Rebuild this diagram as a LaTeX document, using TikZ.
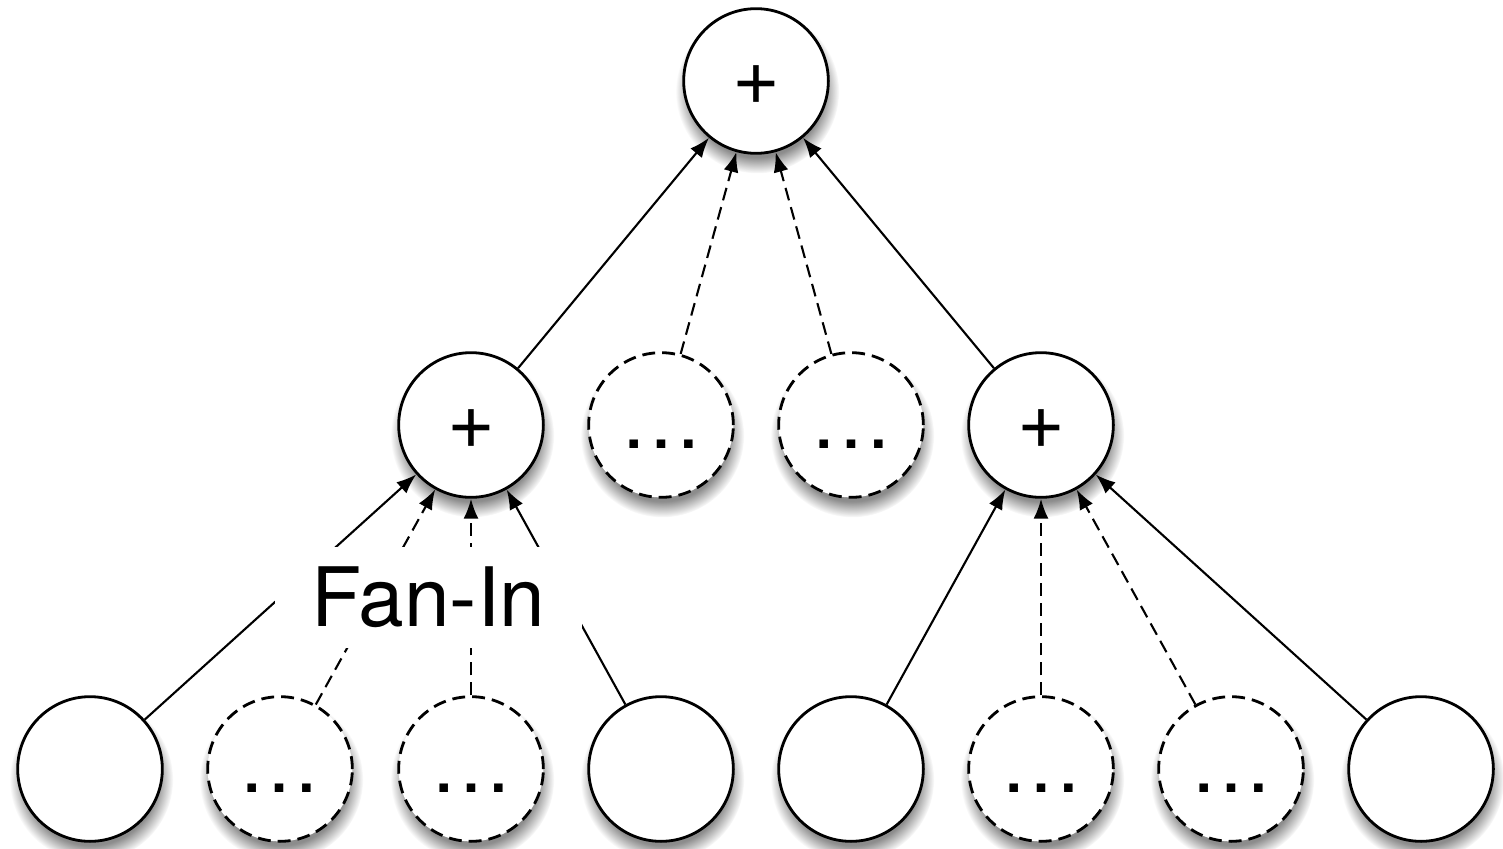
\documentclass[tikz,border=0pt]{standalone}
\usepackage{fontspec}
\setmainfont{TeX Gyre Heros}
\usetikzlibrary{arrows.meta,shadows}

\begin{document}
\begin{tikzpicture}[x=0.015cm,y=-0.015cm,
    every node/.style={font=\fontsize{35}{40}\selectfont},
    op/.style={circle,draw,line width=1.2pt,fill=white,minimum size=2.17cm,
      inner sep=0pt,text height=27.3pt,text depth=7pt,
      circular drop shadow={shadow xshift=0.5pt,shadow yshift=-4pt,
        shadow scale=1.13,opacity=0.9,
        path fading={circle with fuzzy edge 20 percent}}},
    more/.style={op,dash pattern=on 5.5pt off 3pt},
    flow/.style={-{Latex[length=8.5pt,width=6.4pt]},line width=0.9pt},
    flowd/.style={flow,dash pattern=on 5.5pt off 3pt}]
      \useasboundingbox (0,0) rectangle (1503,848);

      \node[op] (total) at (756,81) {+};

      \node[op] (suml) at (471,425) {+};
      \node[more] (partl) at (661,425) {…};
      \node[more] (partr) at (851,425) {…};
      \node[op] (sumr) at (1041,425) {+};

      \node[op] (leafa) at (90,769) {};
      \node[more] (leafb) at (280,769) {…};
      \node[more] (leafc) at (471,769) {…};
      \node[op] (leafd) at (661,769) {};
      \node[op] (leafe) at (851,769) {};
      \node[more] (leaff) at (1041,769) {…};
      \node[more] (leafg) at (1231,769) {…};
      \node[op] (leafh) at (1421,769) {};

      \draw[flow] (suml) -- (total);
      \draw[flowd] (partl) -- (total);
      \draw[flowd] (partr) -- (total);
      \draw[flow] (sumr) -- (total);

      \draw[flow] (leafa) -- (suml);
      \draw[flowd] (leafb) -- (suml);
      \draw[flowd] (leafc) -- (suml);
      \draw[flow] (leafd) -- (suml);

      \draw[flow] (leafe) -- (sumr);
      \draw[flowd] (leaff) -- (sumr);
      \draw[flowd] (leafg) -- (sumr);
      \draw[flow] (leafh) -- (sumr);

      \node[fill=white,inner sep=0pt,minimum width=4.6cm,minimum height=1.515cm]
           (fanin) at (428.5,597.5) {Fan-In};
\end{tikzpicture}
\end{document}
